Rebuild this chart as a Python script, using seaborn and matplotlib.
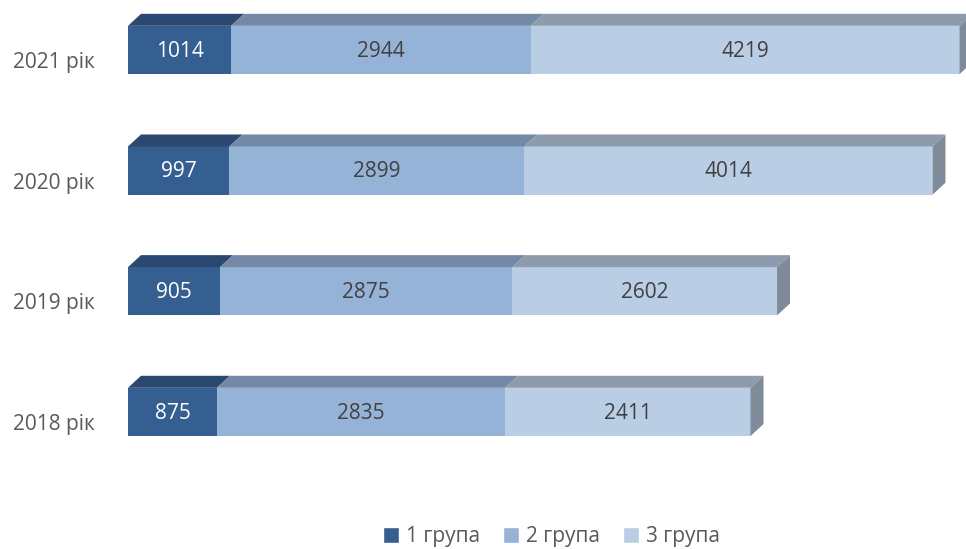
import numpy as np
import pandas as pd
import seaborn as sns
from matplotlib import pyplot as plt
from matplotlib.patches import Polygon, Patch
from matplotlib.transforms import ScaledTranslation

sns.set_style('white')
plt.rcParams['font.family'] = ['Open Sans', 'DejaVu Sans']

years = ['2021 рік', '2020 рік', '2019 рік', '2018 рік']
group1 = [1014, 997, 905, 875]
group2 = [2944, 2899, 2875, 2835]
group3 = [4219, 4014, 2602, 2411]
series_names = ['1 група', '2 група', '3 група']

front = ['#355E91', '#95B3D7', '#B9CDE5']
top = ['#2B4970', '#7389A5', '#8E9BAC']
side = '#7F8B99'

df = pd.DataFrame({'year': years, 'g1': group1, 'g2': group2, 'g3': group3})
df['c1'] = df['g1']
df['c2'] = df['g1'] + df['g2']
df['c3'] = df['g1'] + df['g2'] + df['g3']

fig = plt.figure(figsize=(9.66, 5.49), dpi=100)
ax = fig.add_axes([128 / 966, 49 / 549, 838 / 966, 500 / 549])

bw = 0.4
# stacked via overlaying cumulative sums
for col, c in zip(['c3', 'c2', 'c1'], front[::-1]):
    sns.barplot(data=df, x=col, y='year', orient='h', color=c, saturation=1,
                width=bw, ax=ax, linewidth=0)

xpx = 0.1017  # px per unit
dx = 13 / xpx
dy = 12 / 120.67

for i, row in df.iterrows():
    lefts = [0, row['c1'], row['c2']]
    widths = [row['g1'], row['g2'], row['g3']]
    ytop = i - bw / 2
    for k in range(3):
        L, w = lefts[k], widths[k]
        ax.add_patch(Polygon([(L, ytop), (L + w, ytop), (L + w + dx, ytop - dy), (L + dx, ytop - dy)],
                             closed=True, facecolor=top[k], edgecolor='none', clip_on=False))
        ax.text(L + w / 2, i + 0.01, f'{int(w)}', ha='center', va='center', fontsize=15,
                color='white' if k == 0 else '#404040')
    R = row['c3']
    ax.add_patch(Polygon([(R, ytop), (R, i + bw / 2), (R + dx, i + bw / 2 - dy), (R + dx, ytop - dy)],
                         closed=True, facecolor=side, edgecolor='none', clip_on=False))

ax.set_xlim(0, 838 / xpx)
ax.set_ylim(3.73, -0.414)
ax.set_xlabel('')
ax.set_ylabel('')
ax.set_xticks([])
ax.tick_params(axis='y', length=0, pad=24, labelsize=15, labelcolor='#595959')
# labels sit a little below the bar centre, as in the original
shift = ScaledTranslation(0, -10 / 100, fig.dpi_scale_trans)
for lab in ax.get_yticklabels():
    lab.set_transform(lab.get_transform() + shift)
sns.despine(ax=ax, left=True, bottom=True)

handles = [Patch(facecolor=c, label=n) for c, n in zip(front, series_names)]
fig.legend(handles=handles, loc='lower center', bbox_to_anchor=(0.571, -0.031), ncol=3,
           frameon=False, fontsize=15, handlelength=0.75, handleheight=0.75, columnspacing=1.1,
           handletextpad=0.35, labelcolor='#595959')

fig.savefig('out.png', dpi=100)
